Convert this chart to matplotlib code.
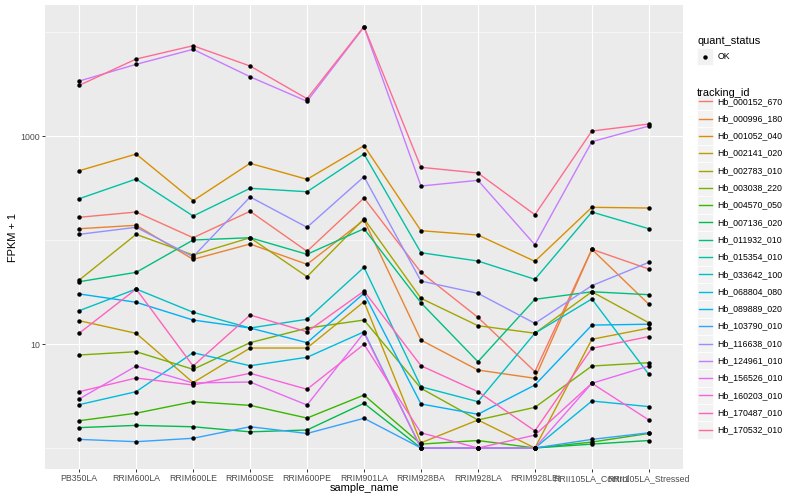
import matplotlib
matplotlib.use("Agg")
import matplotlib.pyplot as plt
from matplotlib.patches import Rectangle
from matplotlib.lines import Line2D
from matplotlib.ticker import NullFormatter

plt.rcParams['font.family'] = ['Liberation Sans', 'DejaVu Sans']

samples = ["PB350LA", "RRIM600LA", "RRIM600LE", "RRIM600SE", "RRIM600PE",
           "RRIM901LA", "RRIM928BA", "RRIM928LA", "RRIM928LEI",
           "RRII105LA_Control", "RRII105LA_Stressed"]

tracking_ids = ["Hb_000152_670", "Hb_000996_180", "Hb_001052_040", "Hb_002141_020",
                "Hb_002783_010", "Hb_003038_220", "Hb_004570_050", "Hb_007136_020",
                "Hb_011932_010", "Hb_015354_010", "Hb_033642_100", "Hb_068804_080",
                "Hb_089889_020", "Hb_103790_010", "Hb_116638_010", "Hb_124961_010",
                "Hb_156526_010", "Hb_160203_010", "Hb_170487_010", "Hb_170532_010"]

colors = ["#F8766D", "#EA8331", "#D89000", "#C09B00", "#A3A500", "#7CAE00",
          "#39B600", "#00BB4E", "#00BF7D", "#00C1A3", "#00BFC4", "#00BAE0",
          "#00B0F6", "#35A2FF", "#9590FF", "#C77CFF", "#E76BF3", "#FA62DB",
          "#FF62BC", "#FF6C90"]

# FPKM + 1 values, per tracking_id, in sample order
Hb_000152_670 = [165.3, 185.9, 105.2, 188.8, 77.9, 253.4, 48.9, 18.05, 5.42, 81.4, 52.6]
Hb_000996_180 = [128.4, 138.5, 65.2, 91.5, 58.4, 155.7, 10.9, 5.62, 4.68, 81.4, 24.1]
Hb_001052_040 = [463.8, 671.2, 238.7, 546.4, 383.5, 806.9, 122.9, 111.7, 62.4, 206.3, 203.1]
Hb_002141_020 = [16.75, 12.67, 4.25, 9.15, 9.15, 25.5, 1.12, 1.86, 1.0, 11.1, 14.2]
Hb_002783_010 = [41.2, 113.4, 71.7, 105.2, 44.4, 160.2, 27.5, 15.0, 12.7, 31.8, 16.0]
Hb_003038_220 = [7.84, 8.43, 5.71, 10.3, 14.2, 17.0, 3.75, 1.86, 2.46, 6.14, 6.61]
Hb_004570_050 = [1.83, 2.16, 2.79, 2.57, 1.94, 3.23, 1.09, 1.18, 1.0, 1.14, 1.38]
Hb_007136_020 = [1.57, 1.65, 1.60, 1.43, 1.49, 2.69, 1.0, 1.0, 1.0, 1.09, 1.18]
Hb_011932_010 = [39.7, 48.9, 100.0, 105.2, 72.9, 128.4, 24.9, 6.76, 26.9, 31.8, 29.8]
Hb_015354_010 = [249.5, 386.0, 170.1, 314.1, 291.3, 671.2, 75.5, 62.8, 41.9, 185.9, 128.4]
Hb_033642_100 = [20.9, 33.8, 20.2, 14.25, 17.3, 54.6, 3.88, 2.79, 12.7, 27.1, 5.11]
Hb_068804_080 = [2.61, 3.48, 8.25, 6.18, 7.45, 13.1, 1.0, 1.0, 1.0, 2.83, 2.50]
Hb_089889_020 = [30.3, 25.2, 17.0, 14.25, 10.3, 30.7, 2.65, 2.11, 4.03, 15.2, 15.5]
Hb_103790_010 = [1.21, 1.15, 1.24, 1.60, 1.38, 1.93, 1.0, 1.0, 1.0, 1.21, 1.40]
Hb_116638_010 = [113.4, 132.5, 69.1, 259.1, 132.5, 406.1, 40.3, 30.7, 15.8, 36.4, 61.0]
Hb_124961_010 = [3379, 4891, 6818, 3717, 2156, 11170, 330.5, 375.0, 90.1, 881.5, 1248]
Hb_156526_010 = [2.96, 6.14, 4.22, 4.31, 2.59, 12.8, 1.0, 1.0, 1.0, 4.19, 6.14]
Hb_160203_010 = [3.48, 4.71, 4.03, 5.23, 3.67, 9.93, 1.40, 1.0, 1.33, 4.19, 1.86]
Hb_170487_010 = [12.7, 33.8, 6.14, 19.0, 13.1, 32.3, 6.18, 3.48, 1.46, 9.09, 11.8]
Hb_170532_010 = [3072, 5500, 7386, 4713, 2284, 11295, 500.0, 441.0, 175.1, 1117, 1305]

series = [Hb_000152_670, Hb_000996_180, Hb_001052_040, Hb_002141_020, Hb_002783_010,
          Hb_003038_220, Hb_004570_050, Hb_007136_020, Hb_011932_010, Hb_015354_010,
          Hb_033642_100, Hb_068804_080, Hb_089889_020, Hb_103790_010, Hb_116638_010,
          Hb_124961_010, Hb_156526_010, Hb_160203_010, Hb_170487_010, Hb_170532_010]

quant_status = ["OK"]

W, H = 800, 500
fig = plt.figure(figsize=(8, 5), dpi=100)
fig.patch.set_facecolor('white')


def fx(px):
    return px / W


def fy(py):
    return 1 - py / H


ax = fig.add_axes([fx(45), fy(469), (683 - 45) / W, (469 - 5) / H])
ax.set_facecolor('#EBEBEB')

xs = list(range(len(samples)))
for vals, c in zip(series, colors):
    ax.plot(xs, vals, color=c, lw=1.0, zorder=2, solid_capstyle='butt')
for vals in series:
    ax.plot(xs, vals, 'o', color='black', ms=3.2, mew=0, zorder=3)

ax.set_yscale('log')
ax.set_ylim(10 ** -0.202, 10 ** 4.26)
ax.set_xlim(-0.6, 10.6)
ax.set_yticks([10, 1000])
ax.set_yticklabels(['10', '1000'])
ax.set_yticks([1, 100, 10000], minor=True)
ax.yaxis.set_minor_formatter(NullFormatter())
ax.set_xticks(xs)
ax.set_xticklabels(samples)
ax.tick_params(axis='y', which='minor', length=0)
ax.tick_params(which='major', length=2.0, width=0.7, color='#333333',
               labelcolor='#4D4D4D', labelsize=6.3, pad=1.8)
ax.grid(which='major', color='white', lw=0.8)
ax.grid(which='minor', axis='y', color='white', lw=0.4)
ax.set_axisbelow(True)
for s in ax.spines.values():
    s.set_visible(False)

fig.text(fx(364), fy(488), 'sample_name', fontsize=7.9, ha='center', va='center')
fig.text(fx(13), fy(237), 'FPKM + 1', fontsize=7.9, ha='center', va='center', rotation=90)

# legend: quant_status
fig.text(fx(697), fy(40.5), 'quant_status', fontsize=7.9, ha='left', va='center')
for i, q in enumerate(quant_status):
    yc = 56.7 + 17.3 * i
    fig.add_artist(Rectangle((fx(697), fy(yc + 8.65)), 16 / W, 17.3 / H,
                             transform=fig.transFigure, facecolor='#F2F2F2',
                             edgecolor='white', lw=0.5))
    fig.add_artist(Line2D([fx(705)], [fy(yc)], marker='o', color='black', ms=3.2, mew=0,
                          transform=fig.transFigure))
    fig.text(fx(717.5), fy(yc), q, fontsize=6.3, ha='left', va='center')

# legend: tracking_id
fig.text(fx(697), fy(93), 'tracking_id', fontsize=7.9, ha='left', va='center')
for i, (tid, c) in enumerate(zip(tracking_ids, colors)):
    yc = 101.3 + 17.3 * i
    fig.add_artist(Rectangle((fx(697), fy(yc + 8.65)), 16 / W, 17.3 / H,
                             transform=fig.transFigure, facecolor='#F2F2F2',
                             edgecolor='white', lw=0.5))
    fig.add_artist(Line2D([fx(698.5), fx(711.5)], [fy(yc), fy(yc)], color=c, lw=1.0,
                          transform=fig.transFigure))
    fig.text(fx(717.5), fy(yc), tid, fontsize=6.3, ha='left', va='center')

fig.savefig('out.png', dpi=100)
